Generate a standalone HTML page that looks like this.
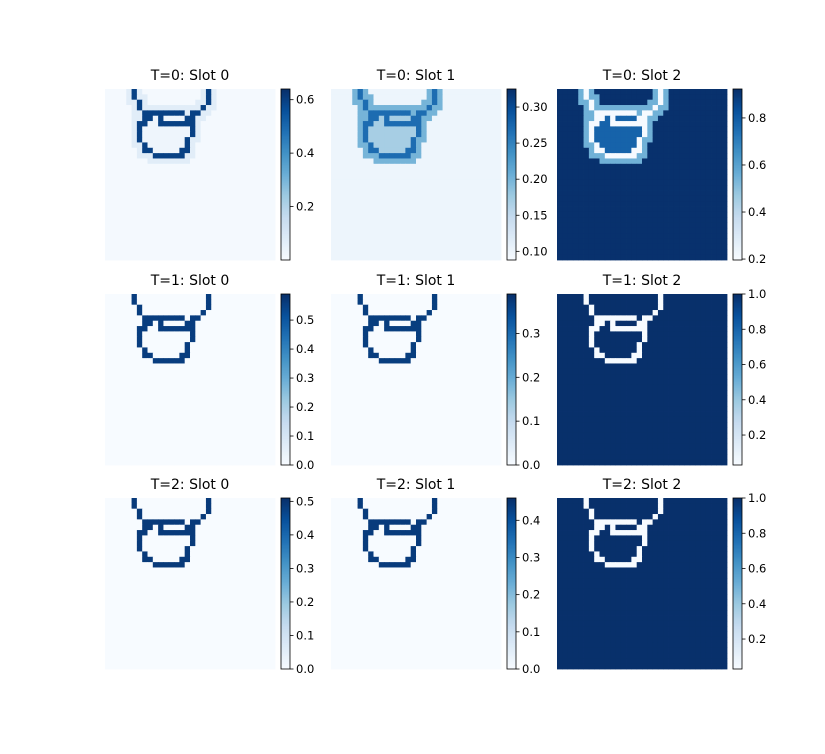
<!DOCTYPE html>
<html><head><meta charset="utf-8"><style>
body{margin:0;background:#fff;width:825px;height:750px;overflow:hidden;font-family:"DejaVu Sans","Liberation Sans",sans-serif}
</style></head><body>
<svg id="fig" width="825" height="750" xmlns="http://www.w3.org/2000/svg"></svg>
<script>
// outline mask rows: column indices of outline cells per row (32x32 grid)
const maskRows=[[5,19],[5,19],[6,19],[6,18],[7,8,9,10,11,12,13,14,16,17],[7,8,10,15,16],[6,7,10,11,12,13,14,15,16],[6,16],[6,16],[6,15],[7,15],[7,8,14,15],[9,10,11,12,13,14]];
const titles=["T=0: Slot 0","T=0: Slot 1","T=0: Slot 2","T=1: Slot 0","T=1: Slot 1","T=1: Slot 2","T=2: Slot 0","T=2: Slot 1","T=2: Slot 2"];
const bgVals=[0.01,0.10,0.92,0,0,1.0,0,0,1.0];
const lineVals=[0.60,0.27,0.20,0.56,0.37,0.03,0.49,0.44,0.03];
const haloVals=[0.07,0.20,0.55,0,0,1.0,0,0,1.0];
const innerVals=[0.03,0.17,0.78,0,0,1.0,0,0,1.0];
const vmins=[0.0,0.088,0.196,0,0,0.03,0,0,0.03];
const vmaxs=[0.64,0.325,0.923,0.59,0.39,1.0,0.51,0.46,1.0];
const ticks=[[0.2,0.4,0.6],[0.10,0.15,0.20,0.25,0.30],[0.2,0.4,0.6,0.8],[0.0,0.1,0.2,0.3,0.4,0.5],[0.0,0.1,0.2,0.3],[0.2,0.4,0.6,0.8,1.0],[0.0,0.1,0.2,0.3,0.4,0.5],[0.0,0.1,0.2,0.3,0.4],[0.2,0.4,0.6,0.8,1.0]];
const tickLabels=[["0.2","0.4","0.6"],["0.10","0.15","0.20","0.25","0.30"],["0.2","0.4","0.6","0.8"],["0.0","0.1","0.2","0.3","0.4","0.5"],["0.0","0.1","0.2","0.3"],["0.2","0.4","0.6","0.8","1.0"],["0.0","0.1","0.2","0.3","0.4","0.5"],["0.0","0.1","0.2","0.3","0.4"],["0.2","0.4","0.6","0.8","1.0"]];

const NS="http://www.w3.org/2000/svg";
const svg=document.getElementById('fig');
const stops=["#f7fbff","#deebf7","#c6dbef","#9ecae1","#6baed6","#4292c6","#2171b5","#08519c","#08306b"].map(h=>[parseInt(h.substr(1,2),16),parseInt(h.substr(3,2),16),parseInt(h.substr(5,2),16)]);
function blues(t){t=Math.max(0,Math.min(1,t))*8;const i=Math.min(7,Math.floor(t)),f=t-i;const a=stops[i],b=stops[i+1];return `rgb(${a.map((v,k)=>Math.round(v+(b[k]-v)*f)).join(',')})`;}
function mk(tag,attrs,parent){const e=document.createElementNS(NS,tag);for(const k in attrs)e.setAttribute(k,attrs[k]);parent.appendChild(e);return e;}
const N=32;
const grid=[];for(let r=0;r<N;r++){grid.push(new Array(N).fill(0));}
maskRows.forEach((cols,r)=>cols.forEach(c=>grid[r][c]=1));
function cellType(r,c){
  if(grid[r][c])return 1;
  if(r>=5&&r<=11){const cs=maskRows[r];if(c>Math.min(...cs)&&c<Math.max(...cs))return 3;}
  for(let dr=-1;dr<=1;dr++)for(let dc=-1;dc<=1;dc++){const rr=r+dr,cc=c+dc;if(rr>=0&&rr<N&&cc>=0&&cc<N&&grid[rr][cc])return 2;}
  return 0;
}
const colX=[105,331,557],rowY=[89,294,498],W=170,H=171;
for(let p=0;p<9;p++){
  const x0=colX[p%3],y0=rowY[Math.floor(p/3)];
  const g=mk('g',{},svg);
  
  
  const t=mk('text',{x:x0+W/2,y:y0-9,'text-anchor':'middle','font-size':'14','fill':'#000'},g);
  t.textContent=titles[p];
  
  
  const cw=W/N,ch=H/N,lo=vmins[p],hi=vmaxs[p];
  for(let r=0;r<N;r++)for(let c=0;c<N;c++){
    const ty=cellType(r,c);
    const v=[bgVals[p],lineVals[p],haloVals[p],innerVals[p]][ty];
    const rc=mk('rect',{x:x0+c*cw,y:y0+r*ch,width:cw+0.4,height:ch+0.4,fill:blues((v-lo)/(hi-lo))},g);
    
    
  }
  const bx=x0+W+6,bw=9;
  const cb=mk('g',{},svg);
  
  
  for(let i=0;i<H;i++){mk('rect',{x:bx,y:y0+H-1-i,width:bw,height:1.2,fill:blues(i/(H-1))},cb);}
  mk('rect',{x:bx,y:y0,width:bw,height:H,fill:'none',stroke:'#000','stroke-width':0.8},cb);
  ticks[p].forEach((tv,i)=>{
    const ty=y0+H-(tv-lo)/(hi-lo)*H;
    mk('line',{x1:bx+bw,x2:bx+bw+3.5,y1:ty,y2:ty,stroke:'#000','stroke-width':0.8},cb);
    const tl=mk('text',{x:bx+bw+6,y:ty+4,'font-size':'11.5',fill:'#000'},cb);
    tl.textContent=tickLabels[p][i];
    
    
  });
}
</script>
</body></html>
